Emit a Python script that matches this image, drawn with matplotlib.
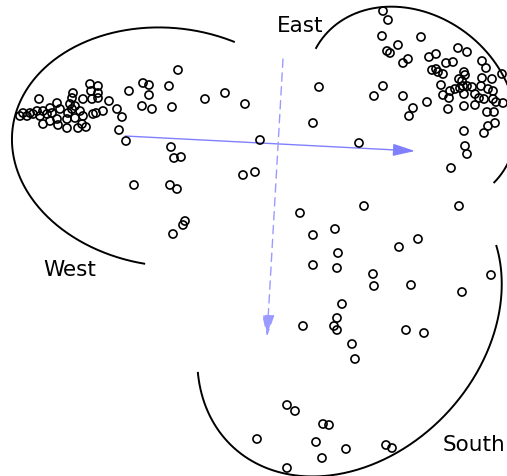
import numpy as np
import matplotlib
matplotlib.use("Agg")
import matplotlib.pyplot as plt
from matplotlib.patches import ArrowStyle

# ---- point coordinates (canvas units, y downward) ----
west_x = [90, 98, 91, 98, 92, 98, 83, 73, 72, 39, 109, 117, 122, 119, 126, 129,
          57, 70, 75, 72, 68, 60, 50, 52, 43, 37, 30, 23, 20, 27, 33, 40, 47,
          57, 67, 80, 83, 93, 96, 103, 82, 86, 78, 67, 58, 43, 50, 75, 178]
west_y = [85, 87, 92, 94, 100, 99, 100, 94, 99, 100, 102, 110, 118, 131, 142, 92,
          104, 105, 107, 110, 114, 110, 109, 114, 112, 112, 114, 114, 117, 117, 115, 117, 115,
          120, 120, 112, 117, 115, 114, 112, 125, 128, 129, 129, 126, 125, 122, 119, 71]

mid_x = [143, 149, 169, 149, 142, 152, 172, 205, 225, 245, 260, 171, 174, 181,
         243, 255, 134, 170, 177, 185, 183, 173, 319, 313, 300, 313, 335, 359,
         364, 459, 338, 399, 418, 313, 337, 373, 374, 411, 491, 462, 342, 303,
         337, 334, 337, 406, 424, 352, 355, 451, 467, 465, 464]
mid_y = [84, 86, 87, 96, 107, 110, 108, 100, 94, 105, 141, 148, 159, 158,
         176, 173, 186, 186, 190, 222, 226, 235, 88, 124, 214, 236, 230, 144,
         207, 207, 254, 248, 240, 266, 269, 275, 287, 286, 276, 293, 305, 327,
         319, 327, 331, 331, 334, 345, 360, 169, 155, 147, 132]

south_x = [287, 295, 323, 329, 257, 316, 346, 322, 287, 386, 392]
south_y = [406, 412, 425, 426, 440, 443, 450, 459, 469, 446, 449]

east_x = [383, 388, 382, 421, 398, 387, 390, 408, 403, 458, 467, 429, 436, 446,
          453, 482, 486, 432, 436, 438, 443, 464, 465, 502, 482, 492, 459, 462,
          463, 467, 472, 441, 460, 455, 450, 481, 488, 493, 443, 449, 464, 475,
          479, 484, 493, 496, 503, 383, 374, 403, 427, 448, 464, 475, 487, 494,
          413, 409, 488, 495, 484]
east_y = [12, 21, 37, 38, 46, 52, 54, 60, 64, 49, 53, 58, 55, 64,
          63, 62, 69, 71, 70, 73, 75, 73, 76, 75, 79, 80, 80, 82,
          87, 87, 88, 86, 89, 90, 92, 87, 90, 92, 96, 99, 95, 95,
          99, 100, 100, 103, 104, 87, 97, 97, 103, 110, 107, 106, 113, 113,
          109, 117, 127, 124, 134]

labels = ["East", "West", "South"]

W, H = 507, 477
fig = plt.figure(figsize=(W / 100, H / 100), dpi=100)
ax = fig.add_axes([0, 0, 1, 1])
ax.set_xlim(0, W)
ax.set_ylim(H, 0)
ax.axis("off")


def ellipse_arc(cx, cy, a, b, phi_deg, t0, t1, n=300):
    t = np.radians(np.linspace(t0, t1, n))
    p = np.radians(phi_deg)
    x = cx + a * np.cos(t) * np.cos(p) - b * np.sin(t) * np.sin(p)
    y = cy + a * np.cos(t) * np.sin(p) + b * np.sin(t) * np.cos(p)
    return x, y


arcs = [
    (168.6, 148.0, 157.1, 119.0, -173.4, -86.4, 110.0),
    (411.3, 107.9, 92.1, 112.3, 128.0, 81.8, 275.8),
    (349.5, 322.6, 133.6, 171.2, -137.0, -245.7, -55.0),
]
for arc in arcs:
    xs, ys = ellipse_arc(*arc)
    ax.plot(xs, ys, color="black", lw=1.4, solid_capstyle="butt")

# points
xs = west_x + mid_x + south_x + east_x
ys = west_y + mid_y + south_y + east_y
ax.scatter(xs, ys, s=34, facecolors="none", edgecolors="black", linewidths=1.2, zorder=3)

# arrows
style = ArrowStyle("-|>", head_length=0.9, head_width=0.25)
ax.annotate("", xy=(415, 152), xytext=(125, 137),
            arrowprops=dict(arrowstyle=style, mutation_scale=15, color="#8080ff",
                            lw=1.0, shrinkA=0, shrinkB=0), zorder=2)
ax.annotate("", xy=(267, 338), xytext=(283, 60),
            arrowprops=dict(arrowstyle=style, mutation_scale=15, color="#9a9aff",
                            lw=1.0, ls=(0, (6, 4)), shrinkA=0, shrinkB=0), zorder=2)

# labels
ax.text(300, 26, labels[0], fontsize=15.5, ha="center", va="center", family="DejaVu Sans")
ax.text(70, 270, labels[1], fontsize=15.5, ha="center", va="center", family="DejaVu Sans")
ax.text(474, 445, labels[2], fontsize=15.5, ha="center", va="center", family="DejaVu Sans")

fig.savefig("out.png", dpi=100)
